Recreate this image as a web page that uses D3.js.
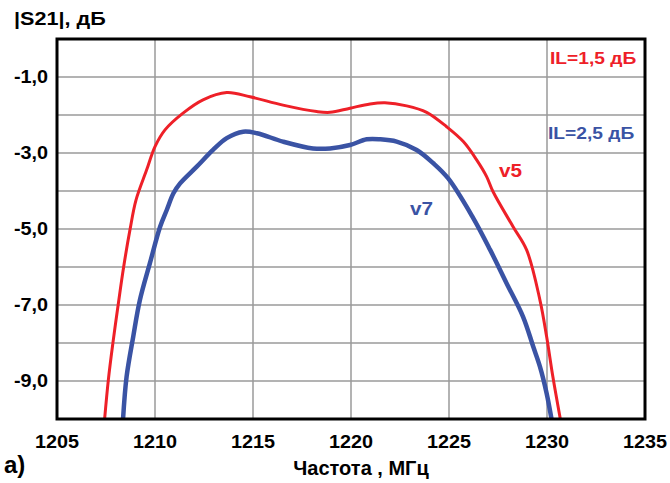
<!DOCTYPE html>
<html lang="ru">
<head>
<meta charset="UTF-8">
<title>|S21|</title>
<script src="https://d3js.org/d3.v7.min.js"></script>
<style type="text/css">
    body { margin: 0; background: #fff; }
    text { font-family: "Liberation Sans", Arial, sans-serif; font-weight: bold; }
</style>
</head>
<body>
<div id="svgDiv"></div>
<script type="text/javascript">

    // frequency, MHz / |S21|, dB
    var freqV5 = [1207.43, 1207.62, 1207.85, 1208.13, 1208.4, 1208.72, 1209.03, 1209.57, 1210.0, 1210.51, 1211.43, 1212.45, 1213.66, 1214.85, 1216.53, 1218.25, 1218.93, 1219.95, 1220.97, 1221.73, 1222.84, 1223.86, 1224.88, 1225.73, 1226.41, 1226.92, 1227.25, 1228.27, 1228.96, 1229.64, 1229.98, 1230.3, 1230.68];
    var s21V5  = [-10.0, -8.97, -8.01, -6.96, -6.0, -5.03, -4.24, -3.45, -2.83, -2.39, -1.95, -1.6, -1.41, -1.52, -1.74, -1.91, -1.93, -1.82, -1.71, -1.68, -1.76, -1.93, -2.31, -2.7, -3.18, -3.62, -4.02, -4.94, -5.55, -6.87, -7.83, -8.89, -10.0];

    var freqV7 = [1208.37, 1208.55, 1208.89, 1209.23, 1209.74, 1210.26, 1210.6, 1210.94, 1211.28, 1212.13, 1212.96, 1213.66, 1214.5, 1215.2, 1216.53, 1218.06, 1218.93, 1219.95, 1220.8, 1221.5, 1222.33, 1223.35, 1224.2, 1224.96, 1226.2, 1227.1, 1227.93, 1228.78, 1229.3, 1229.64, 1229.98, 1230.23];
    var s21V7  = [-10.0, -8.89, -7.83, -6.87, -5.9, -4.94, -4.5, -4.06, -3.8, -3.36, -2.92, -2.61, -2.44, -2.48, -2.7, -2.88, -2.88, -2.79, -2.64, -2.64, -2.7, -2.92, -3.27, -3.67, -4.68, -5.55, -6.42, -7.31, -8.1, -8.62, -9.32, -10.0];

    var xTicks = [1205, 1210, 1215, 1220, 1225, 1230, 1235];
    var yGrid = [-1, -2, -3, -4, -5, -6, -7, -8, -9];
    var yLabels = ["-1,0", "-3,0", "-5,0", "-7,0", "-9,0"];

    var svgWidth = 670, svgHeight = 483;
    var plotLeft = 57, plotRight = 645, plotTop = 39, plotBottom = 419;
    var red = "#ee2028", blue = "#3a53a4";

    var svg = d3.select("#svgDiv").append("svg")
        .attr("width", svgWidth)
        .attr("height", svgHeight);

    var x = d3.scaleLinear().domain([1205, 1235]).range([plotLeft, plotRight]);
    var y = d3.scaleLinear().domain([-10, 0]).range([plotBottom, plotTop]);

    svg.append("clipPath").attr("id", "plotClip")
        .append("rect")
        .attr("x", plotLeft).attr("y", plotTop)
        .attr("width", plotRight - plotLeft).attr("height", plotBottom - plotTop);

    // grid
    svg.append("g").selectAll("line").data(xTicks.slice(1, -1)).enter().append("line")
        .attr("x1", function(d){ return x(d); }).attr("x2", function(d){ return x(d); })
        .attr("y1", plotTop).attr("y2", plotBottom)
        .attr("stroke", "#9a9a9a").attr("stroke-width", 1.5);

    svg.append("g").selectAll("line").data(yGrid).enter().append("line")
        .attr("x1", plotLeft).attr("x2", plotRight)
        .attr("y1", function(d){ return y(d); }).attr("y2", function(d){ return y(d); })
        .attr("stroke", "#9a9a9a").attr("stroke-width", 1.5);

    // tick labels (slightly wide face, like the original)
    svg.append("g").selectAll("text").data(xTicks).enter().append("text")
        .attr("transform", function(d){ return "translate(" + x(d) + ",448) scale(1.1,1)"; })
        .attr("text-anchor", "middle")
        .attr("font-size", "18px")
        .text(function(d){ return d; });

    svg.append("g").selectAll("text").data(yLabels).enter().append("text")
        .attr("transform", function(d){ return "translate(48," + (y(+d.replace(",", ".")) + 6) + ") scale(1.1,1)"; })
        .attr("text-anchor", "end")
        .attr("font-size", "18px")
        .text(function(d){ return d; });

    // curves
    var line = d3.line()
        .x(function(d){ return x(d[0]); })
        .y(function(d){ return y(d[1]); })
        .curve(d3.curveCatmullRom.alpha(0.5));

    svg.append("path")
        .datum(d3.zip(freqV5, s21V5))
        .attr("clip-path", "url(#plotClip)")
        .attr("fill", "none").attr("stroke", red).attr("stroke-width", 3)
        .attr("d", line);

    svg.append("path")
        .datum(d3.zip(freqV7, s21V7))
        .attr("clip-path", "url(#plotClip)")
        .attr("fill", "none").attr("stroke", blue).attr("stroke-width", 4.5)
        .attr("d", line);

    // frame
    svg.append("rect")
        .attr("x", plotLeft).attr("y", plotTop)
        .attr("width", plotRight - plotLeft).attr("height", plotBottom - plotTop)
        .attr("fill", "none").attr("stroke", "#000").attr("stroke-width", 3);

    // titles and labels
    function label(px, py, size, sx, color, txt, anchor) {
        svg.append("text")
            .attr("transform", "translate(" + px + "," + py + ") scale(" + sx + ",1)")
            .attr("text-anchor", anchor || "start")
            .attr("font-size", size)
            .attr("fill", color)
            .text(txt);
    }
    label(14, 25, "18px", 1.2, "#000", "|S21|, дБ");
    label(361, 475, "20px", 1.0, "#000", "Частота , МГц", "middle");
    label(4, 473, "24px", 1.0, "#000", "а)");
    label(550, 64, "16px", 1.2, red, "IL=1,5 дБ");
    label(548, 139, "16px", 1.2, blue, "IL=2,5 дБ");
    label(499, 177, "18px", 1.15, red, "v5");
    label(410, 215, "18px", 1.15, blue, "v7");

</script>
</body>
</html>
